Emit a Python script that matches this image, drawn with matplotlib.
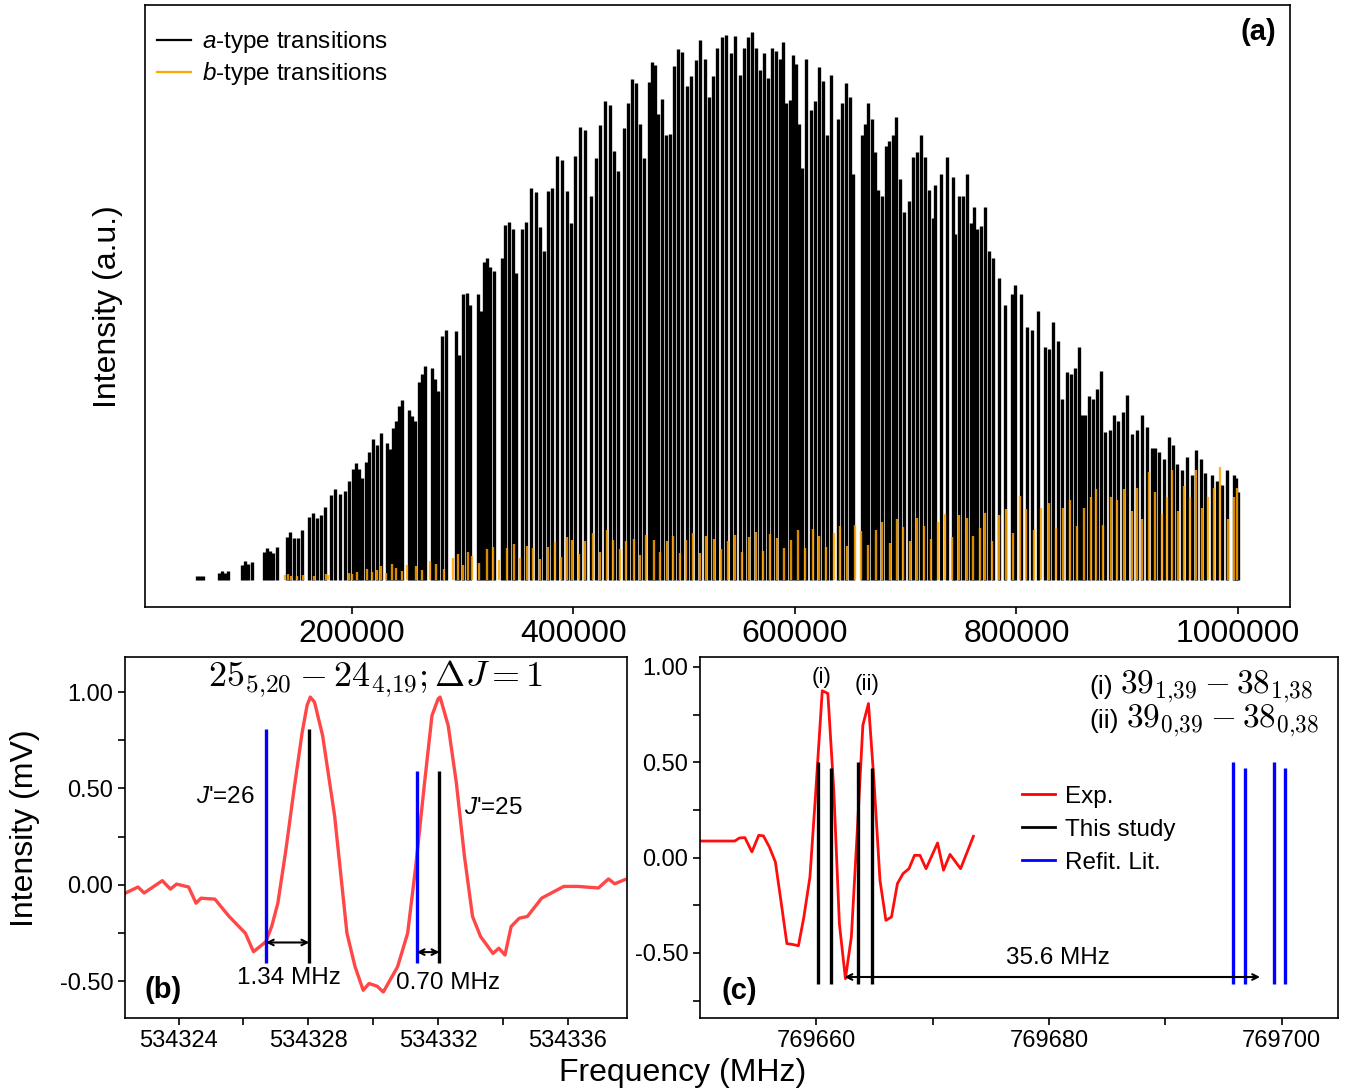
import numpy as np
import matplotlib
matplotlib.use("Agg")
import matplotlib.pyplot as plt
from matplotlib.lines import Line2D

plt.rcParams["font.family"] = ["Liberation Sans", "DejaVu Sans"]
plt.rcParams["mathtext.fontset"] = "custom"
plt.rcParams["mathtext.rm"] = "Liberation Sans"
plt.rcParams["mathtext.it"] = "Liberation Sans:italic"
plt.rcParams["mathtext.bf"] = "Liberation Sans:bold"
plt.rcParams["axes.unicode_minus"] = False
plt.rcParams["axes.linewidth"] = 1.2

# ---- panel (a): stick spectrum, frequencies in GHz, intensity normalised ----
a_freq_ghz = [
    [60.4, 63.1, 65.8],
    [80.2, 83.0, 85.7, 88.4],
    [101.0, 103.7, 106.4, 110.0],
    [120.9, 123.6, 126.3, 129.0, 132.6],
    [141.6, 144.3, 147.9, 151.5, 155.2],
    [161.5, 165.1, 168.7, 172.3, 175.9],
    [181.3, 184.9, 189.4, 193.9, 197.6],
    [201.2, 203.9, 206.6, 209.3, 212.9],
    [215.6, 219.2, 222.8, 226.4],
    [231.9, 234.6, 237.3, 240.0, 242.7, 245.4],
    [251.7, 254.4, 257.1, 260.7, 263.4, 266.2],
    [272.5, 275.2, 277.9, 281.5, 285.1],
    [294.1, 296.8, 300.5, 304.1, 306.8],
    [314.0, 316.7, 319.4, 322.1, 324.8, 328.4],
    [335.6, 338.4, 342.0, 345.6, 348.3],
    [353.7, 357.3, 361.8, 366.3, 369.9, 373.6],
    [377.2, 380.8, 385.3, 389.8, 394.3, 397.9],
    [401.5, 406.1, 410.6, 416.0],
    [420.5, 424.1, 428.6, 433.1, 436.7, 440.3],
    [445.8, 449.4, 453.0, 456.6, 460.2, 463.8],
    [468.3, 471.0, 473.7, 476.4],
    [480.1, 483.7, 487.3, 490.9, 494.5, 498.1],
    [502.6, 506.2, 510.7, 514.3, 518.9, 522.5],
    [526.1, 529.7, 534.2, 537.8, 542.3, 545.9, 550.5],
    [554.0, 557.6, 561.3, 564.9, 568.5, 572.1],
    [575.7, 579.3, 582.9, 586.6, 589.3, 592.0],
    [595.6, 598.3, 601.0, 603.7, 606.4, 610.0],
    [614.5, 618.1, 621.7, 625.4, 629.0, 632.6],
    [638.9, 642.5, 646.1, 649.7, 652.4],
    [660.5, 663.3, 666.0, 669.6, 672.3, 675.0],
    [678.6, 682.2, 685.0, 688.6, 691.3, 694.9, 698.5],
    [702.9, 706.6, 710.2, 713.8, 717.4, 721.0, 724.6],
    [726.4, 731.8, 737.3, 742.7],
    [744.5, 748.1, 751.7, 755.3, 758.9, 761.6],
    [764.3, 767.9, 771.5, 775.2],
    [778.8, 784.2, 789.6, 795.9],
    [798.6, 804.0, 809.5, 814.0, 819.4],
    [825.7, 829.3, 832.9, 837.4, 841.0],
    [845.6, 849.2, 852.8, 856.4, 859.1],
    [861.8, 865.4, 869.0, 872.6, 876.3, 879.9],
    [884.4, 888.0, 891.6, 896.1, 899.7],
    [904.2, 908.7, 913.2, 917.8, 922.3],
    [925.0, 928.6, 933.1, 937.6, 941.2, 944.9],
    [949.4, 953.9, 958.4, 962.0, 966.5, 970.1],
    [976.4, 980.9, 985.4, 989.9],
    [996.3, 998.1, 1000.0],
]
a_int = [
    [.006, .007, .007],
    [.012, .015, .013, .016],
    [.027, .034, .028, .032],
    [.050, .057, .052, .048, .059],
    [.078, .086, .076, .076, .090],
    [.114, .121, .112, .118, .132],
    [.154, .165, .156, .162, .179],
    [.202, .213, .201, .186, .215],
    [.232, .256, .245, .267],
    [.249, .238, .276, .290, .316, .327],
    [.310, .298, .289, .360, .375, .390],
    [.386, .365, .344, .444, .456],
    [.453, .410, .520, .523, .500],
    [.521, .490, .580, .587, .570, .562],
    [.587, .646, .653, .640, .560],
    [.640, .653, .714, .707, .643, .600],
    [.709, .714, .772, .765, .708, .650],
    [.772, .826, .820, .700],
    [.769, .829, .873, .866, .782, .745],
    [.824, .869, .913, .906, .830, .768],
    [.907, .944, .938, .850],
    [.877, .810, .813, .937, .968, .963],
    [.900, .918, .948, .984, .950, .880],
    [.918, .970, .990, .993, .960, .991, .920],
    [.970, .990, .998, .970, .930, .960],
    [.915, .970, .964, .950, .980, .870],
    [.874, .957, .940, .830, .750, .950],
    [.856, .872, .935, .910, .810, .920],
    [.840, .870, .905, .880, .740],
    [.810, .830, .870, .840, .780, .710],
    [.700, .790, .800, .810, .843, .730, .670],
    [.690, .770, .780, .810, .770, .710, .660],
    [.720, .740, .770, .735],
    [.630, .700, .700, .740, .650, .680],
    [.640, .645, .680, .600],
    [.587, .550, .500, .520],
    [.538, .520, .460, .455, .490],
    [.425, .420, .470, .435, .330],
    [.378, .375, .386, .425, .300],
    [.300, .335, .330, .348, .380, .270],
    [.272, .300, .290, .305, .337],
    [.266, .272, .300, .278, .240],
    [.240, .233, .220, .260, .245, .210],
    [.200, .223, .190, .236, .220, .195],
    [.190, .180, .172, .200],
    [.190, .185, .160],
]

b_freq_ghz = [
    140.0, 142.5, 145.0, 150.5, 156.0, 166.0, 176.5, 178.5, 197.5, 200.5, 205.0,
    214.0, 218.0, 222.5, 226.0, 231.0, 236.5, 240.0, 245.5, 250.0, 258.0, 263.5,
    270.5, 276.0, 283.0, 291.5, 296.0, 300.5, 305.0, 309.0,
    315.0, 322.0, 327.5, 333.0, 340.0, 346.5, 352.0, 358.0, 364.0, 370.0, 377.0,
    383.5, 389.0, 394.5, 399.0,
    405.0, 411.0, 418.0, 424.0, 430.5, 436.0, 442.0, 448.0, 454.5, 460.0, 466.0,
    472.5, 478.0, 484.5, 490.0, 496.0,
    502.0, 508.5, 514.0, 520.0, 527.0, 533.0, 539.5, 546.0, 552.0, 558.5, 565.0,
    571.0, 577.5, 584.0, 590.0, 596.5,
    603.0, 609.5, 616.0, 622.0, 628.5, 635.0, 641.0, 647.5, 654.0, 660.0, 666.5,
    673.0, 679.0, 685.5, 692.0, 698.0,
    704.0, 710.5, 717.0, 723.0, 729.5, 736.0, 742.0, 748.5, 755.0, 761.0, 767.5,
    772.0, 778.0, 784.5, 791.0, 797.0,
    803.0, 809.0, 816.0, 822.0, 829.0, 835.5, 842.0, 848.0, 854.5, 861.0, 867.0,
    872.0, 878.5, 885.0, 891.0, 897.5,
    904.5, 908.5, 913.5, 919.5, 925.0, 931.0, 935.5, 940.5, 946.0, 951.0, 956.5,
    962.0, 967.5, 973.0, 978.0, 983.5, 991.0, 996.0, 999.0,
]
b_int = [
    .008, .010, .007, .006, .009, .006, .011, .009, .012, .010, .014,
    .020, .014, .018, .025, .012, .028, .022, .016, .026, .024, .018,
    .034, .028, .020, .040, .046, .026, .050, .044,
    .030, .055, .060, .036, .058, .065, .040, .062, .057, .038, .060,
    .068, .042, .077, .072,
    .046, .070, .085, .050, .090, .072, .055, .070, .075, .045, .082,
    .072, .050, .070, .080, .048,
    .072, .085, .048, .080, .074, .055, .070, .082, .050, .078, .086,
    .052, .084, .076, .058, .072,
    .090, .058, .092, .080, .060, .085, .098, .062, .100, .088, .064,
    .090, .105, .066, .110, .096,
    .070, .112, .098, .075, .105, .120, .078, .118, .112, .080, .094,
    .122, .070, .118, .128, .085,
    .152, .128, .090, .130, .140, .095, .130, .145, .098, .130, .150,
    .165, .100, .150, .145, .166,
    .125, .168, .110, .197, .160, .120, .150, .200, .125, .170, .150,
    .200, .130, .150, .168, .205, .110, .150, .168,
]
a_ticks = [200000, 400000, 600000, 800000, 1000000]

# ---- panel (b) ----
b_exp_freq = [
    534322.37, 534322.75, 534322.94, 534323.50, 534323.75, 534323.94, 534324.31,
    534324.54, 534324.69, 534325.12, 534325.56, 534326.06, 534326.31, 534326.69,
    534326.87, 534327.06, 534327.31, 534327.56, 534327.81, 534327.96, 534328.06,
    534328.19, 534328.44, 534328.81, 534329.19, 534329.44, 534329.69, 534329.87,
    534330.12, 534330.31, 534330.75, 534331.06, 534331.31, 534331.56, 534331.81,
    534332.00, 534332.06, 534332.31, 534332.56, 534332.81, 534333.06, 534333.31,
    534333.69, 534333.87, 534334.06, 534334.25, 534334.50, 534334.75, 534335.19,
    534335.87, 534336.31, 534336.94, 534337.25, 534337.44, 534337.75,
]
b_exp_int = [
    -0.043, -0.012, -0.043, 0.021, -0.023, 0.003, -0.012,
    -0.096, -0.070, -0.075, -0.165, -0.252, -0.348, -0.296,
    -0.217, -0.096, 0.183, 0.496, 0.791, 0.930, 0.974,
    0.948, 0.774, 0.357, -0.252, -0.426, -0.548, -0.513,
    -0.527, -0.557, -0.426, -0.252, 0.096, 0.496, 0.878,
    0.965, 0.974, 0.826, 0.530, 0.148, -0.165, -0.270,
    -0.357, -0.330, -0.365, -0.217, -0.174, -0.165, -0.070,
    -0.009, -0.009, -0.017, 0.030, 0.005, 0.026,
]
b_lit_freq = [534326.69, 534331.34]
b_study_freq = [534328.03, 534332.04]
b_stick_top = [0.809, 0.588]
b_stick_bottom = -0.409
b_xticks = [534324, 534328, 534332, 534336]
b_xminor = [534326, 534330, 534334]

# ---- panel (c) ----
c_exp_freq = [
    769650.02, 769652.99, 769653.39, 769653.86, 769654.46, 769655.05, 769655.45,
    769655.96, 769656.48, 769656.95, 769657.47, 769657.94, 769658.46, 769658.93,
    769659.45, 769659.92, 769660.51, 769660.99, 769661.50, 769661.98, 769662.50,
    769663.01, 769663.49, 769664.00, 769664.48, 769664.95, 769665.47, 769665.98,
    769666.46, 769666.97, 769667.45, 769667.96, 769668.44, 769668.91, 769669.43,
    769670.42, 769670.93, 769671.49, 769672.40, 769673.50,
]
c_exp_int = [
    0.087, 0.087, 0.103, 0.105, 0.030, 0.117, 0.114,
    0.056, -0.023, -0.224, -0.451, -0.455, -0.462, -0.311,
    -0.101, 0.318, 0.875, 0.861, 0.353, -0.346, -0.635,
    -0.416, 0.108, 0.695, 0.808, 0.406, -0.119, -0.329,
    -0.311, -0.136, -0.084, -0.058, 0.012, 0.012, -0.058,
    0.077, -0.066, 0.017, -0.058, 0.112,
]
c_study_freq = [769660.12, 769661.23, 769663.60, 769664.75]
c_lit_freq = [769695.84, 769696.83, 769699.33, 769700.32]
c_stick_top = [0.502, 0.472, 0.502, 0.472]
c_stick_bottom = -0.661
c_xticks = [769660, 769680, 769700]
c_xminor = [769670, 769690]

y_major = [-0.5, 0.0, 0.5, 1.0]
y_labels = ["-0.50", "0.00", "0.50", "1.00"]

fig = plt.figure(figsize=(13.48, 10.91), dpi=100)
ax_a = fig.add_axes([145 / 1348, 1 - 607 / 1091, 1145 / 1348, 602 / 1091])
ax_b = fig.add_axes([125 / 1348, 1 - 1018 / 1091, 502 / 1348, 361 / 1091])
ax_c = fig.add_axes([700 / 1348, 1 - 1018 / 1091, 638 / 1348, 361 / 1091])

# panel (a)
a_f = np.concatenate([np.array(c) for c in a_freq_ghz]) * 1000
a_h = np.concatenate([np.array(c) for c in a_int])
ax_a.vlines(a_f, 0, a_h, colors="black", lw=2.4, zorder=1)
ax_a.vlines(np.array(b_freq_ghz) * 1000, 0, b_int, colors="orange", lw=1.7,
            alpha=0.85, zorder=2)
ax_a.set_yticks([])
ax_a.set_xticks(a_ticks)
ax_a.set_xticklabels([str(t) for t in a_ticks])
ax_a.tick_params(axis="x", labelsize=23, length=5, width=1.2)
handles = [Line2D([], [], color="black", lw=1.6), Line2D([], [], color="orange", lw=1.6)]
ax_a.legend(handles, [r"$a$-type transitions", r"$b$-type transitions"],
            loc="upper left", bbox_to_anchor=(-0.004, 0.988), frameon=False,
            fontsize=17.5, handlelength=1.4, handletextpad=0.45, labelspacing=0.2,
            borderaxespad=0.3)
ax_a.text(0.988, 0.955, "(a)", transform=ax_a.transAxes, ha="right", va="center",
          fontsize=21, fontweight="bold")
fig.text(108 / 1348, 1 - 307 / 1091, "Intensity (a.u.)", rotation=90,
         ha="center", va="center", fontsize=23)

# panel (b)
ax_b.plot(b_exp_freq, b_exp_int, color="red", lw=2.4, alpha=0.72, zorder=1)
ax_b.vlines(b_lit_freq, b_stick_bottom, b_stick_top, colors="blue", lw=2.4, zorder=2)
ax_b.vlines(b_study_freq, b_stick_bottom, b_stick_top, colors="black", lw=2.4, zorder=2)
ax_b.annotate("", xy=(b_lit_freq[0], -0.30), xytext=(b_study_freq[0], -0.30),
              arrowprops=dict(arrowstyle="<->", color="black", lw=1.5, shrinkA=0, shrinkB=0))
ax_b.annotate("", xy=(b_lit_freq[1], -0.35), xytext=(b_study_freq[1], -0.35),
              arrowprops=dict(arrowstyle="<->", color="black", lw=1.5, shrinkA=0, shrinkB=0))
ax_b.text(534327.39, -0.483, "1.34 MHz", ha="center", va="center", fontsize=17.5)
ax_b.text(534332.32, -0.509, "0.70 MHz", ha="center", va="center", fontsize=17.5)
ax_b.text(534325.46, 0.457, r"$J$'=26", ha="center", va="center", fontsize=17.5)
ax_b.text(534333.72, 0.40, r"$J$'=25", ha="center", va="center", fontsize=17.5)
ax_b.text(534330.08, 1.07, r"$25_{5{,}20} - 24_{4{,}19}; \Delta J = 1$", ha="center",
          va="center", fontsize=26, math_fontfamily="cm")
ax_b.text(534323.52, -0.545, "(b)", ha="center", va="center", fontsize=21,
          fontweight="bold")
ax_b.set_xlim(534322.35, 534337.82)
ax_b.set_ylim(-0.692, 1.182)
ax_b.set_xticks(b_xticks)
ax_b.set_xticklabels([str(t) for t in b_xticks])
ax_b.set_xticks(b_xminor, minor=True)
ax_b.set_yticks(y_major)
ax_b.set_yticklabels(y_labels)
ax_b.set_yticks([-0.25, 0.25, 0.75], minor=True)
ax_b.tick_params(which="both", labelsize=17, length=5, width=1.2)
fig.text(25 / 1348, 1 - 828 / 1091, "Intensity (mV)", rotation=90,
         ha="center", va="center", fontsize=23)

# panel (c)
ax_c.plot(c_exp_freq, c_exp_int, color="red", lw=2.0, alpha=0.95, zorder=1)
ax_c.vlines(c_study_freq, c_stick_bottom, c_stick_top, colors="black", lw=2.4, zorder=2)
ax_c.vlines(c_lit_freq, c_stick_bottom, c_stick_top, colors="blue", lw=2.4, zorder=2)
ax_c.annotate("", xy=(769662.42, -0.626), xytext=(769698.14, -0.626),
              arrowprops=dict(arrowstyle="<->", color="black", lw=1.5, shrinkA=0, shrinkB=0))
ax_c.text(769680.8, -0.524, "35.6 MHz", ha="center", va="center", fontsize=17.5)
ax_c.text(769660.49, 0.944, "(i)", ha="center", va="center", fontsize=16)
ax_c.text(769664.35, 0.907, "(ii)", ha="center", va="center", fontsize=16)
ax_c.text(769683.5, 0.897, "(i)", ha="left", va="center", fontsize=19)
ax_c.text(769686.1, 0.897, r"$39_{1{,}39} - 38_{1{,}38}$", ha="left", va="center",
          fontsize=24, math_fontfamily="cm")
ax_c.text(769683.5, 0.718, "(ii)", ha="left", va="center", fontsize=19)
ax_c.text(769686.6, 0.718, r"$39_{0{,}39} - 38_{0{,}38}$", ha="left", va="center",
          fontsize=24, math_fontfamily="cm")
ax_c.text(769653.4, -0.697, "(c)", ha="center", va="center", fontsize=21,
          fontweight="bold")
c_handles = [Line2D([], [], color="red", lw=2.0), Line2D([], [], color="black", lw=2.0),
             Line2D([], [], color="blue", lw=2.0)]
ax_c.legend(c_handles, ["Exp.", "This study", "Refit. Lit."], loc="upper left",
            bbox_to_anchor=(0.471, 0.704), frameon=False, fontsize=17.5,
            handlelength=1.35, handletextpad=0.4, labelspacing=0.45)
ax_c.set_xlim(769650.0, 769704.84)
ax_c.set_ylim(-0.841, 1.052)
ax_c.set_xticks(c_xticks)
ax_c.set_xticklabels([str(t) for t in c_xticks])
ax_c.set_xticks(c_xminor, minor=True)
ax_c.set_yticks(y_major)
ax_c.set_yticklabels(y_labels)
ax_c.set_yticks([-0.75, -0.25, 0.25, 0.75], minor=True)
ax_c.tick_params(which="both", labelsize=17, length=5, width=1.2)

fig.text(683 / 1348, 1 - 1073 / 1091, "Frequency (MHz)", ha="center", va="center",
         fontsize=23)

fig.savefig("out.png", dpi=100)
